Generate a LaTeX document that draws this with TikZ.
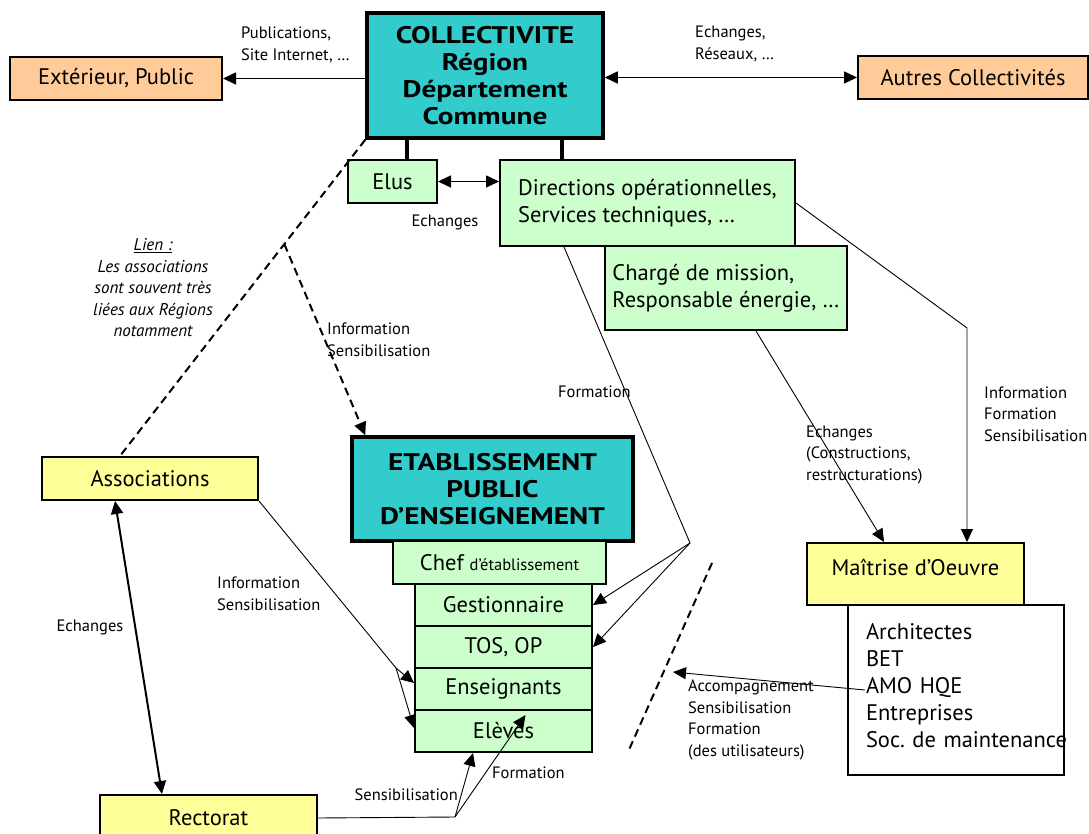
\documentclass[tikz,border=0pt]{standalone}
\usepackage{fontspec}
\setmainfont{PT Sans}
\newfontfamily\widefamily[FakeStretch=1.22]{PT Sans}
\usetikzlibrary{arrows.meta}
\frenchspacing

\definecolor{peach}{RGB}{255,204,153}
\definecolor{mint}{RGB}{204,255,204}
\definecolor{straw}{RGB}{255,255,153}
\definecolor{lagoon}{RGB}{51,204,204}

\newcommand{\boxfont}{\fontsize{22.5}{27}\selectfont}
\newcommand{\lblfont}{\fontsize{16.5}{21.5}\selectfont}
\newcommand{\headfont}{\widefamily\fontsize{24}{27}\selectfont\bfseries}

\tikzset{
  plainbox/.style={draw, line width=2pt, inner sep=0pt, font=\boxfont, align=center},
  peachbox/.style={plainbox, fill=peach},
  mintbox/.style={plainbox, fill=mint},
  strawbox/.style={plainbox, fill=straw},
  headbox/.style={plainbox, fill=lagoon, line width=3.5pt, font=\headfont},
  lbl/.style={inner sep=0pt, font=\lblfont, align=left},
  arr/.style={-{Triangle[length=13pt,width=12pt]}, line width=0.9pt},
  darr/.style={{Triangle[length=13pt,width=12pt]}-{Triangle[length=13pt,width=12pt]}, line width=1.5pt},
  bar/.style={line width=4pt},
  dashline/.style={line width=2pt, dash pattern=on 8pt off 5pt},
}

\begin{document}
\begin{tikzpicture}[x=1pt,y=-1pt]
\useasboundingbox (0,0) rectangle (1089,834);

% collectivite and its services
\node[peachbox, minimum width=212pt, minimum height=43pt] (ext) at (116,78.5) {Extérieur, Public};
\node[headbox, minimum width=236pt, minimum height=125pt] (coll) at (485,75.5) {COLLECTIVITE\\Région\\Département\\Commune};
\node[peachbox, minimum width=230pt, minimum height=43pt] (autres) at (973,77.5) {Autres Collectivités};
\node[mintbox, minimum width=89pt, minimum height=43pt] (elus) at (392.5,181.5) {Elus};
\node[mintbox, minimum width=295pt, minimum height=86pt, align=left] (dir) at (647.5,203) {Directions opérationnelles,\\Services techniques, \ldots};
\node[mintbox, minimum width=242pt, minimum height=84pt, align=left] (charge) at (726,288) {Chargé de mission,\\Responsable énergie, \ldots};

% etablissement
\node[headbox, minimum width=281pt, minimum height=104pt] (etab) at (492.5,489) {ETABLISSEMENT\\PUBLIC\\D’ENSEIGNEMENT};
\node[mintbox, minimum width=213pt, minimum height=43pt] (chef) at (499.5,562.5) {Chef {\fontsize{16.5}{18}\selectfont d’établissement}};
\node[mintbox, minimum width=177pt, minimum height=42pt] (gest) at (503.5,605) {Gestionnaire};
\node[mintbox, minimum width=177pt, minimum height=42pt] (tos) at (503.5,647) {TOS, OP};
\node[mintbox, minimum width=177pt, minimum height=42pt] (ens) at (503.5,689) {Enseignants};
\node[mintbox, minimum width=177pt, minimum height=42pt] (eleves) at (503.5,731) {Elèves};

% partners
\node[strawbox, minimum width=216pt, minimum height=43pt] (assoc) at (150,478.5) {Associations};
\node[strawbox, minimum width=217pt, minimum height=46pt] (rect) at (208.5,818) {Rectorat};
\node[strawbox, minimum width=217pt, minimum height=62pt, text depth=14pt] (maitrise) at (915.5,574) {Maîtrise d’Oeuvre};
\begin{scope}
\clip (847,604) rectangle (1065,776);
\node[plainbox, fill=white, minimum width=216pt, minimum height=170pt, text width=180pt, text depth=118pt, align=left] (list) at (956,690) {Architectes\\BET\\AMO HQE\\Entreprises\\\mbox{Soc. de maintenance}};
\end{scope}

% links
\draw[bar] ([xshift=14.5pt]elus.north) -- ([xshift=14.5pt]elus.north |- coll.south);
\draw[bar] ([xshift=63pt]dir.north west) -- ([xshift=63pt]dir.north west |- coll.south);
\draw[arr, line width=1.5pt] (coll.west |- ext.east) -- (ext.east);
\draw[darr] (coll.east |- autres.west) -- (autres.west);
\draw[darr] (elus.east) -- (elus.east -| dir.west);

\draw[dashline] (coll.south west) -- coordinate[pos=0.33] (lk) ([xshift=-30pt]assoc.north);
\draw[dashline, -{Triangle[length=13pt,width=12pt]}] (lk) -- ([xshift=15pt]etab.north west);
\draw[darr, line width=2pt] ([xshift=-35pt]assoc.south) -- ([xshift=-46.5pt]rect.north);

\coordinate (fb) at (690,543);
\draw[line width=0.9pt] ([xshift=65pt]dir.south west) -- (fb);
\draw[arr] (fb) -- (gest.east);
\draw[arr] (fb) -- (tos.east);

\coordinate (ib) at (967,328);
\draw[arr] (dir.east) -- (ib) -- (ib |- maitrise.north);
\draw[arr] ([xshift=30pt]charge.south) -- ([xshift=-31.5pt]maitrise.north);

\coordinate (ab) at (396,668);
\draw[line width=0.9pt] (assoc.south east) -- (ab);
\draw[arr] (ab) -- ([yshift=6pt]ens.west);
\draw[arr] (ab) -- ([yshift=3pt]eleves.west);

\coordinate (rb) at (455,817);
\draw[line width=0.9pt] (rect.east) -- (rb);
\draw[arr] (rb) -- ([xshift=-30.5pt]eleves.south);
\draw[arr] (rb) -- ([xshift=22pt,yshift=-4pt]ens.south);

\draw[dashline] (712,563) -- (628,752);
\coordinate (acc) at (673,672);
\draw[arr] ([xshift=18pt]list.west) -- (acc);

% labels
\node[lbl, anchor=west] (publbl) at (241,45) {Publications,\\Site Internet, \ldots};
\node[lbl, anchor=west] (reslbl) at (695,44) {Echanges,\\Réseaux, \ldots};
\node[lbl] (elulbl) at (445,222) {Echanges};
\node[lbl, align=center, font=\fontsize{17}{21.5}\selectfont\itshape] (lienlbl) at (153,288) {\underline{Lien :}\\Les associations\\sont souvent très\\liées aux Régions\\notamment};
\node[lbl, anchor=west] (sens1lbl) at (327,340) {Information\\Sensibilisation};
\node[lbl, anchor=west] (form1lbl) at (558,392) {Formation};
\node[lbl, anchor=west] (constlbl) at (806,455) {Echanges\\(Constructions,\\restructurations)};
\node[lbl, anchor=west] (infolbl) at (984,414) {Information\\Formation\\Sensibilisation};
\node[lbl, anchor=west] (sens2lbl) at (217,594) {Information\\Sensibilisation};
\node[lbl] (asslbl) at (90,627) {Echanges};
\node[lbl, anchor=east] (sens3lbl) at (458,795) {Sensibilisation};
\node[lbl, anchor=west] (form2lbl) at (492,773) {Formation};
\node[lbl, anchor=west] (acclbl) at (688,720) {Accompagnement\\Sensibilisation\\Formation\\(des utilisateurs)};
\end{tikzpicture}
\end{document}
